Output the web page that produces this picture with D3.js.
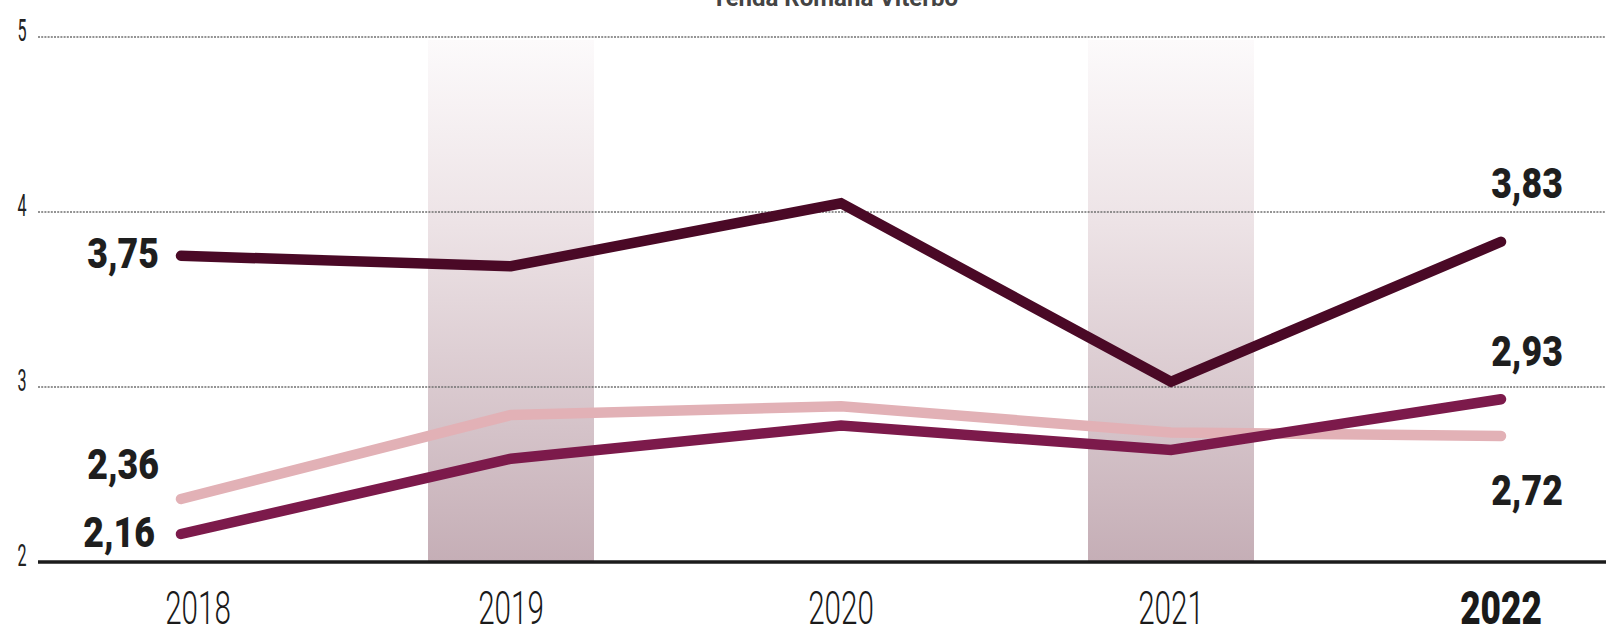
<!DOCTYPE html>
<html>
<head>
<meta charset="utf-8">
<script src="https://cdn.jsdelivr.net/npm/d3@7/dist/d3.min.js"></script>
<style>
  html, body { margin: 0; padding: 0; background: #fff; overflow: hidden; }
  svg { display: block; }
</style>
</head>
<body>
<svg id="chart" width="1606" height="634"></svg>
<script>
// ---- data ----
const years = ["2018", "2019", "2020", "2021", "2022"];
const seriesDark   = [3.75, 3.69, 4.05, 3.03, 3.83];
const seriesMid    = [2.16, 2.59, 2.78, 2.64, 2.93];
const seriesLight  = [2.36, 2.84, 2.89, 2.74, 2.72];
const yTicks = [2, 3, 4, 5];
const shadedYears = ["2019", "2021"];
const titleText = "Tenda Romana Viterbo";
const valueLabels = [
  { text: "3,75", year: "2018", value: 3.75 },
  { text: "2,36", year: "2018", value: 2.36 },
  { text: "2,16", year: "2018", value: 2.16 },
  { text: "3,83", year: "2022", value: 3.83 },
  { text: "2,93", year: "2022", value: 2.93 },
  { text: "2,72", year: "2022", value: 2.72 }
];

// ---- layout / style ----
const W = 1606, H = 634;
const labelOffsets = [
  { dx: -22, dy: 12, anchor: "end" },
  { dx: -22, dy: -20, anchor: "end" },
  { dx: -26, dy: 13, anchor: "end" },
  { dx: 26, dy: -44, anchor: "middle" },
  { dx: 26, dy: -33, anchor: "middle" },
  { dx: 26, dy: 69, anchor: "middle" }
];
const colors = { dark: "#4a0926", mid: "#7c1a4b", light: "#e2b1b6" };

const svg = d3.select("#chart");
const x = d3.scalePoint().domain(years).range([181, 1501]);
const y = d3.scaleLinear().domain([2, 5]).range([562, 37]);

const defs = svg.append("defs");
const grad = defs.append("linearGradient")
  .attr("id", "bandGrad").attr("x1", 0).attr("y1", 0).attr("x2", 0).attr("y2", 1);
grad.append("stop").attr("offset", "0%").attr("stop-color", "#fcfafb");
grad.append("stop").attr("offset", "35%").attr("stop-color", "#ede3e6");
grad.append("stop").attr("offset", "100%").attr("stop-color", "#c5aeb6");

// shaded bands
const bandW = 166;
svg.append("g").selectAll("rect").data(shadedYears).join("rect")
  .attr("x", d => x(d) - bandW / 2)
  .attr("y", y(5) + 3)
  .attr("width", bandW)
  .attr("height", y(2) - y(5) - 3)
  .attr("fill", "url(#bandGrad)");

// title (cut off at top, as in the reference)
svg.append("text")
  .attr("x", 835).attr("y", 6)
  .attr("text-anchor", "middle")
  .attr("font-family", "Roboto, sans-serif")
  .attr("font-weight", 700)
  .attr("font-size", 24)
  .attr("fill", "#444")
  .text(titleText);

// gridlines
svg.append("g").selectAll("line").data(yTicks.filter(t => t !== 2)).join("line")
  .attr("x1", 38).attr("x2", W)
  .attr("y1", d => y(d)).attr("y2", d => y(d))
  .attr("stroke", "#707070")
  .attr("stroke-width", 1.6)
  .attr("stroke-dasharray", "2,1.2");

// baseline
svg.append("line")
  .attr("x1", 38).attr("x2", W)
  .attr("y1", y(2)).attr("y2", y(2))
  .attr("stroke", "#1b1b1b").attr("stroke-width", 3.5);

// y tick labels
const yAxis = svg.append("g").attr("transform", "translate(22,0)")
  .call(d3.axisLeft(y).tickValues(yTicks).tickSize(0).tickFormat(d3.format("d")));
yAxis.select(".domain").remove();
yAxis.selectAll("text")
  .attr("x", 0).attr("dy", null).attr("y", 3)
  .attr("text-anchor", "middle")
  .attr("font-family", "Roboto, sans-serif")
  .attr("font-weight", 400)
  .attr("font-size", 31)
  .attr("fill", "#222")
  .attr("transform", "scale(0.52,1)");

// x axis labels
const xAxis = svg.append("g").attr("transform", `translate(0,${y(2)})`)
  .call(d3.axisBottom(x).tickSize(0));
xAxis.select(".domain").remove();
xAxis.selectAll(".tick")
  .attr("transform", d => `translate(${x(d) + (d === "2018" ? 17 : 0)},0)`);
xAxis.selectAll("text")
  .attr("y", 62).attr("dy", null)
  .attr("font-family", "Roboto, sans-serif")
  .attr("font-weight", d => d === "2022" ? 900 : 300)
  .attr("font-size", 47)
  .attr("fill", "#1a1a1a")
  .attr("transform", d => d === "2022" ? "scale(0.75,1)" : "scale(0.63,1)");

// lines
const line = d3.line().x((d, i) => x(years[i])).y(d => y(d));
const seriesList = [
  { values: seriesLight, color: colors.light },
  { values: seriesMid, color: colors.mid },
  { values: seriesDark, color: colors.dark }
];
svg.append("g").selectAll("path").data(seriesList).join("path")
  .attr("d", d => line(d.values))
  .attr("fill", "none")
  .attr("stroke", d => d.color)
  .attr("stroke-width", 10.5)
  .attr("stroke-linecap", "round")
  .attr("stroke-linejoin", "miter");

// value labels
const lg = svg.append("g").selectAll("g").data(valueLabels).join("g")
  .attr("transform", (d, i) => `translate(${x(d.year) + labelOffsets[i].dx},${y(d.value) + labelOffsets[i].dy})`);
lg.append("text")
  .attr("text-anchor", (d, i) => labelOffsets[i].anchor)
  .attr("font-family", "Roboto, sans-serif")
  .attr("font-weight", 900)
  .attr("font-size", 42)
  .attr("fill", "#1e1e1e")
  .attr("transform", "scale(0.85,1)")
  .text(d => d.text);
</script>
</body>
</html>
